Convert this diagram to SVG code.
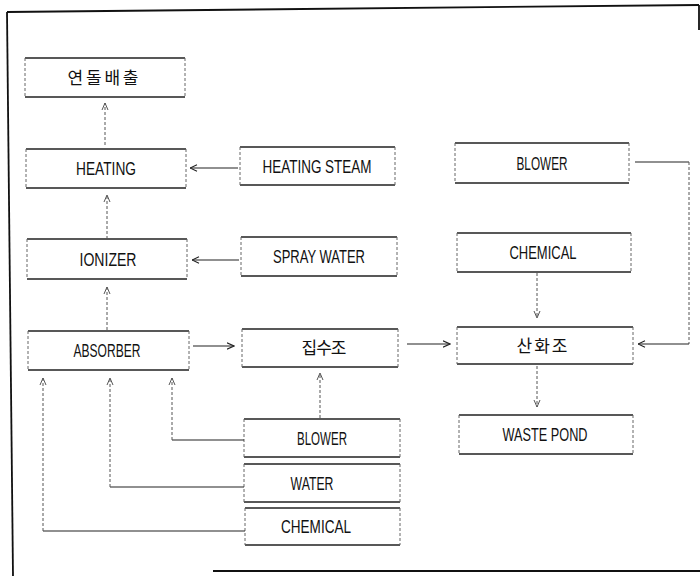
<svg xmlns="http://www.w3.org/2000/svg" width="700" height="576" viewBox="0 0 700 576">
<style>
.hb{stroke:#222;stroke-width:1.4;fill:none}
.vb{stroke:#666;stroke-width:1;fill:none;stroke-dasharray:3,2}
.t{font-family:"Liberation Sans",Arial,sans-serif;font-size:17.5px;fill:#111;text-anchor:middle}
.k{font-family:"Noto Sans CJK KR","Noto Sans",sans-serif;font-size:17px;fill:#111;text-anchor:middle}
.h{stroke:#222;stroke-width:1.2;fill:none}
.v{stroke:#555;stroke-width:1;fill:none;stroke-dasharray:3,2}
.frame{stroke:#111;stroke-width:1.8;fill:none}
</style>
<defs>
<marker id="ah" viewBox="0 0 8 8" refX="7.5" refY="4" markerWidth="8" markerHeight="8" markerUnits="userSpaceOnUse" orient="auto">
<path d="M0.5,0.8 L7.5,4 L0.5,7.2" fill="none" stroke="#222" stroke-width="1.1"/>
</marker>
<marker id="av" viewBox="0 0 8 8" refX="7.5" refY="4" markerWidth="8" markerHeight="8" markerUnits="userSpaceOnUse" orient="auto">
<path d="M0.5,1 L7.5,4 L0.5,7" fill="none" stroke="#555" stroke-width="1"/>
</marker>
</defs>
<rect width="700" height="576" fill="#fff"/>
<g id="frame">
<path class="frame" d="M7,12 L699,5"/>
<path class="frame" d="M7,12 L13,576"/>
<path class="frame" d="M213,571 L700,571"/>
<path class="frame" d="M699,5 L699,30" stroke-width="1"/>
</g>
<g id="n-stack">
<path class="hb" d="M25,58 H185 M25,97 H185"/><path class="vb" d="M25,58 V97 M185,58 V97"/>
<text class="k" x="103" y="84" textLength="71" lengthAdjust="spacing">연돌배출</text>
</g>
<g id="n-heating">
<path class="hb" d="M26,149 H186 M26,188 H186"/><path class="vb" d="M26,149 V188 M186,149 V188"/>
<text class="t" x="106" y="175" textLength="60" lengthAdjust="spacingAndGlyphs">HEATING</text>
</g>
<g id="n-heatingsteam">
<path class="hb" d="M240,147 H395 M240,185 H395"/><path class="vb" d="M240,147 V185 M395,147 V185"/>
<text class="t" x="317" y="173" textLength="109" lengthAdjust="spacingAndGlyphs">HEATING STEAM</text>
</g>
<g id="n-blower-r">
<path class="hb" d="M455,143 H629 M455,183 H629"/><path class="vb" d="M455,143 V183 M629,143 V183"/>
<text class="t" x="542" y="170" textLength="51" lengthAdjust="spacingAndGlyphs">BLOWER</text>
</g>
<g id="n-ionizer">
<path class="hb" d="M27,239 H187 M27,279 H187"/><path class="vb" d="M27,239 V279 M187,239 V279"/>
<text class="t" x="108" y="266" textLength="57" lengthAdjust="spacingAndGlyphs">IONIZER</text>
</g>
<g id="n-spraywater">
<path class="hb" d="M241,237 H397 M241,276 H397"/><path class="vb" d="M241,237 V276 M397,237 V276"/>
<text class="t" x="319" y="263" textLength="92" lengthAdjust="spacingAndGlyphs">SPRAY WATER</text>
</g>
<g id="n-chemical-r">
<path class="hb" d="M457,233 H631 M457,272 H631"/><path class="vb" d="M457,233 V272 M631,233 V272"/>
<text class="t" x="543" y="259" textLength="67" lengthAdjust="spacingAndGlyphs">CHEMICAL</text>
</g>
<g id="n-absorber">
<path class="hb" d="M28,331 H189 M28,370 H189"/><path class="vb" d="M28,331 V370 M189,331 V370"/>
<text class="t" x="107" y="357" textLength="67" lengthAdjust="spacingAndGlyphs">ABSORBER</text>
</g>
<g id="n-sump">
<path class="hb" d="M242,329 H398 M242,367 H398"/><path class="vb" d="M242,329 V367 M398,329 V367"/>
<text class="k" x="324" y="354" textLength="45" lengthAdjust="spacing">집수조</text>
</g>
<g id="n-oxid">
<path class="hb" d="M457,327 H633 M457,364 H633"/><path class="vb" d="M457,327 V364 M633,327 V364"/>
<text class="k" x="542" y="352" textLength="51" lengthAdjust="spacing">산화조</text>
</g>
<g id="n-blower-b">
<path class="hb" d="M244,419 H400 M244,457 H400"/><path class="vb" d="M244,419 V457 M400,419 V457"/>
<text class="t" x="322" y="445" textLength="50" lengthAdjust="spacingAndGlyphs">BLOWER</text>
</g>
<g id="n-water">
<path class="hb" d="M244,464 H400 M244,502 H400"/><path class="vb" d="M244,464 V502 M400,464 V502"/>
<text class="t" x="312" y="490" textLength="43" lengthAdjust="spacingAndGlyphs">WATER</text>
</g>
<g id="n-chemical-b">
<path class="hb" d="M245,508 H400 M245,545 H400"/><path class="vb" d="M245,508 V545 M400,508 V545"/>
<text class="t" x="316" y="533" textLength="70" lengthAdjust="spacingAndGlyphs">CHEMICAL</text>
</g>
<g id="n-wastepond">
<path class="hb" d="M459,415 H633 M459,454 H633"/><path class="vb" d="M459,415 V454 M633,415 V454"/>
<text class="t" x="545" y="441" textLength="85" lengthAdjust="spacingAndGlyphs">WASTE POND</text>
</g>
<g id="connectors">
<path class="v" d="M105,145 V103" marker-end="url(#av)"/>
<path class="v" d="M107,239 V195" marker-end="url(#av)"/>
<path class="v" d="M107,330 V287" marker-end="url(#av)"/>
<path class="h" d="M238,168 H190" marker-end="url(#ah)"/>
<path class="h" d="M239,260 H192" marker-end="url(#ah)"/>
<path class="h" d="M193,346 H234" marker-end="url(#ah)"/>
<path class="h" d="M407,344 H450" marker-end="url(#ah)"/>
<path class="h" d="M635,162 H689"/>
<path class="v" d="M689,162 V344"/>
<path class="h" d="M689,344 H638" marker-end="url(#ah)"/>
<path class="v" d="M537,273 V318" marker-end="url(#av)"/>
<path class="v" d="M537,366 V407" stroke="#bbb" marker-end="url(#av)"/>
<path class="v" d="M320,418 V373" marker-end="url(#av)"/>
<path class="h" d="M244,440 H172"/>
<path class="v" d="M172,440 V378" marker-end="url(#av)"/>
<path class="h" d="M244,487 H110"/>
<path class="v" d="M110,487 V378" marker-end="url(#av)"/>
<path class="h" d="M245,531 H43"/>
<path class="v" d="M43,531 V378" marker-end="url(#av)"/>
</g>
</svg>
